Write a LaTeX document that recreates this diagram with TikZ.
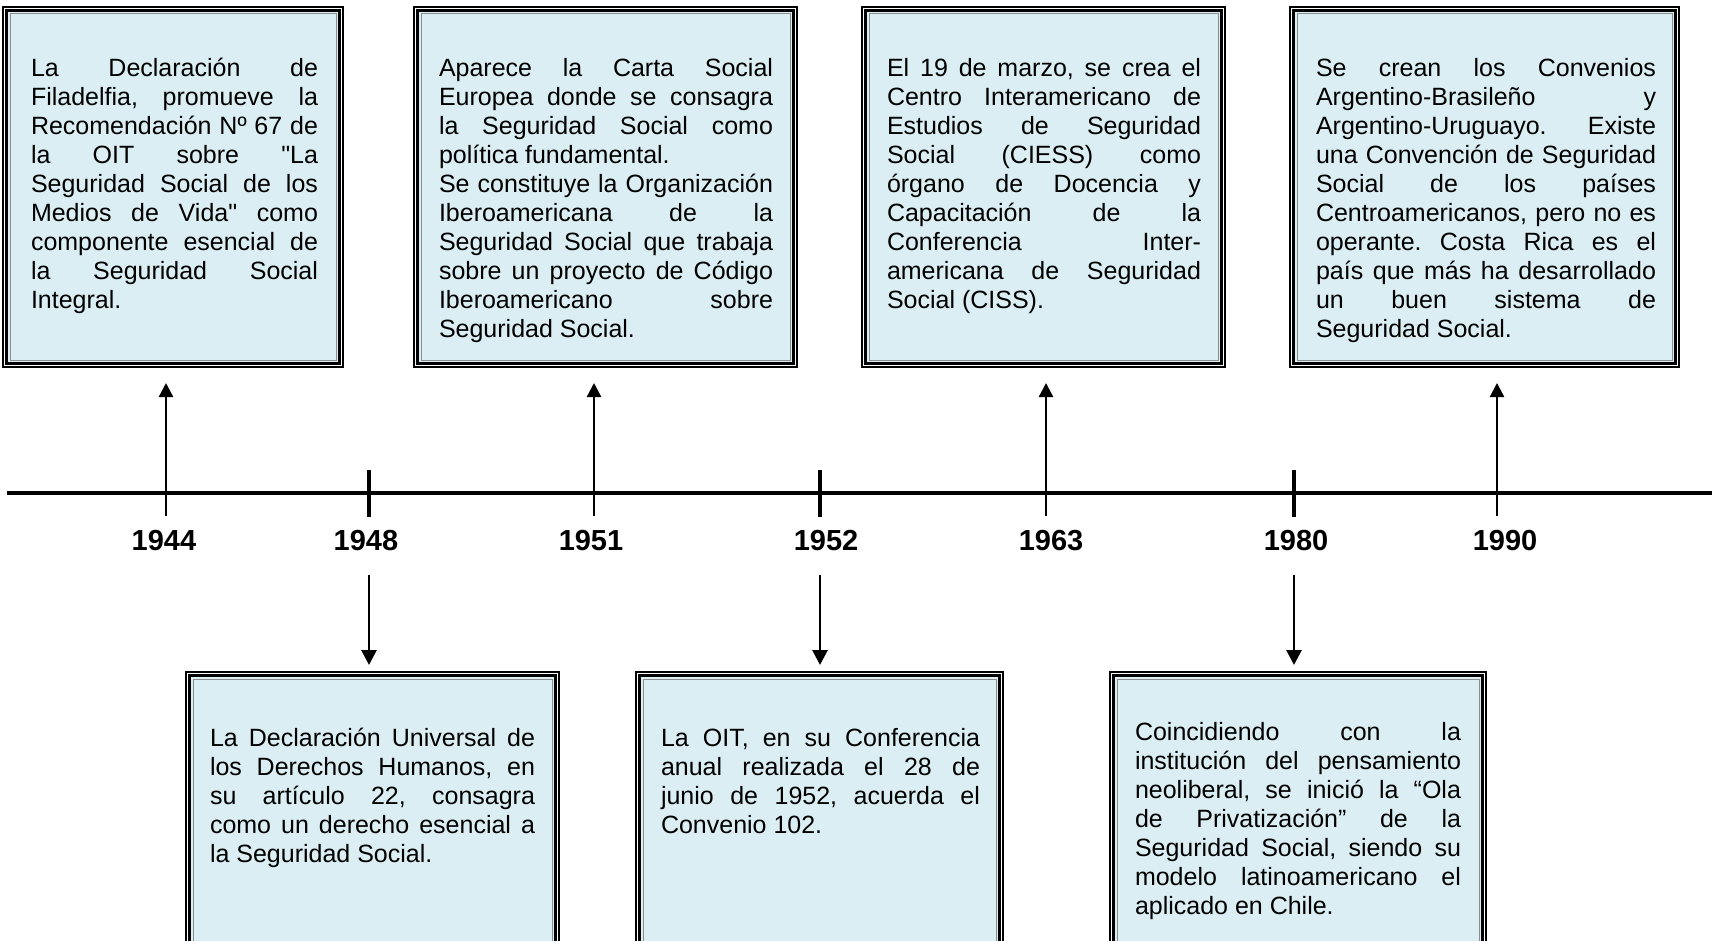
\documentclass[tikz,border=0pt]{standalone}
\usepackage{fontspec}
\setmainfont{Liberation Sans}[Ligatures=TeXOff]
\usetikzlibrary{arrows.meta}
\definecolor{boxfill}{RGB}{219,238,244}
\newcommand\txtsetup{\frenchspacing\hyphenpenalty=10000 \exhyphenpenalty=10000 \tolerance=10000 \hbadness=10000 \noindent\strut}
\tikzset{
 frame/.style={draw=black, line width=3pt, fill=boxfill, inner sep=0pt, outer sep=0pt},
 outerline/.style={draw=black, line width=1.2pt},
 innerline/.style={draw=black!45, line width=1pt},
 body/.style={anchor=north west, inner sep=0pt, outer sep=0pt, align=justify, font=\fontsize{25}{29}\selectfont},
 year/.style={anchor=base, inner sep=0pt, font=\bfseries\fontsize{29}{33}\selectfont},
 axis/.style={line width=4.5pt},
 tickmark/.style={line width=4pt},
 uparrow/.style={line width=2.3pt, -{Triangle[length=14pt,width=14pt]}},
 downarrow/.style={line width=2.8pt, -{Triangle[length=15pt,width=15pt]}},
}
\newcommand\tlbox[7]{% name, L, T, R, B, width, height
 \draw[outerline] (#2,#3) rectangle (#4,#5);
 \node[frame, minimum width=#6pt, minimum height=#7pt] (#1) at ({(#2+#4)/2},{(#3+#5)/2}) {};
 \draw[innerline] ([shift={(3.5,3.5)}]#1.north west) rectangle ([shift={(-3.5,-3.5)}]#1.south east);
}
\begin{document}
\begin{tikzpicture}[x=1pt,y=-1pt]
\useasboundingbox (0,0) rectangle (1712,941);
\clip (0,0) rectangle (1712,941);
\fill[white] (0,0) rectangle (1712,941);

% boxes
\tlbox{b1}{3}{7}{343}{367}{333}{353}
\tlbox{b2}{414}{7}{797}{367}{376}{353}
\tlbox{b3}{862}{7}{1225}{367}{356}{353}
\tlbox{b4}{1290}{7}{1679}{367}{382}{353}
\tlbox{b5}{186}{672}{559}{1000}{366}{321}
\tlbox{b6}{636}{672}{1003}{1000}{360}{321}
\tlbox{b7}{1110}{672}{1486}{1000}{369}{321}

% texts
\node[body, text width=287pt] (t1) at (31,56.2) {\txtsetup La Declaración de\linebreak Filadelfia, promueve la\linebreak Recomendación Nº 67 de\linebreak la OIT sobre "La\linebreak Seguridad Social de los\linebreak Medios de Vida" como\linebreak componente esencial de\linebreak la Seguridad Social\linebreak Integral.};
\node[body, text width=334pt] (t2) at (439,56.2) {\txtsetup Aparece la Carta Social\linebreak Europea donde se consagra\linebreak la Seguridad Social como\linebreak política fundamental.\\ Se constituye la Organización\linebreak Iberoamericana de la\linebreak Seguridad Social que trabaja\linebreak sobre un proyecto de Código\linebreak Iberoamericano sobre\linebreak Seguridad Social.};
\node[body, text width=314pt] (t3) at (887,56.2) {\txtsetup El 19 de marzo, se crea el\linebreak Centro Interamericano de\linebreak Estudios de Seguridad\linebreak Social (CIESS) como\linebreak órgano de Docencia y\linebreak Capacitación de la\linebreak Conferencia Inter-\linebreak americana de Seguridad\linebreak Social (CISS).};
\node[body, text width=340pt] (t4) at (1316,56.2) {\txtsetup Se crean los Convenios\linebreak Argentino-Brasileño y\linebreak Argentino-Uruguayo. Existe\linebreak una Convención de Seguridad\linebreak Social de los países\linebreak Centroamericanos, pero no es\linebreak operante. Costa Rica es el\linebreak país que más ha desarrollado\linebreak un buen sistema de\linebreak Seguridad Social.};
\node[body, text width=325pt] (t5) at (210,726.2) {\txtsetup La Declaración Universal de\linebreak los Derechos Humanos, en\linebreak su artículo 22, consagra\linebreak como un derecho esencial a\linebreak la Seguridad Social.};
\node[body, text width=319pt] (t6) at (661,726.2) {\txtsetup La OIT, en su Conferencia\linebreak anual realizada el 28 de\linebreak junio de 1952, acuerda el\linebreak Convenio 102.};
\node[body, text width=326pt] (t7) at (1135,719.7) {\txtsetup Coincidiendo con la\linebreak institución del pensamiento\linebreak neoliberal, se inició la “Ola\linebreak de Privatización” de la\linebreak Seguridad Social, siendo su\linebreak modelo latinoamericano el\linebreak aplicado en Chile.};

% timeline
\coordinate (ax0) at (6.7,493);
\coordinate (ax1) at (1712,493);
\draw[axis] (ax0) -- (ax1);

% up arrows
\coordinate (u1s) at (166,516); \coordinate (u1e) at (166,383);
\coordinate (u2s) at (594,516); \coordinate (u2e) at (594,383);
\coordinate (u3s) at (1046,516); \coordinate (u3e) at (1046,383);
\coordinate (u4s) at (1497,516); \coordinate (u4e) at (1497,383);
\draw[uparrow] (u1s) -- (u1e);
\draw[uparrow] (u2s) -- (u2e);
\draw[uparrow] (u3s) -- (u3e);
\draw[uparrow] (u4s) -- (u4e);

% ticks
\coordinate (k1a) at (369,470); \coordinate (k1b) at (369,517);
\coordinate (k2a) at (820,470); \coordinate (k2b) at (820,517);
\coordinate (k3a) at (1294,470); \coordinate (k3b) at (1294,517);
\draw[tickmark] (k1a) -- (k1b);
\draw[tickmark] (k2a) -- (k2b);
\draw[tickmark] (k3a) -- (k3b);

% down arrows
\coordinate (d1s) at (369,575); \coordinate (d1e) at (369,665);
\coordinate (d2s) at (820,575); \coordinate (d2e) at (820,665);
\coordinate (d3s) at (1294,575); \coordinate (d3e) at (1294,665);
\draw[downarrow] (d1s) -- (d1e);
\draw[downarrow] (d2s) -- (d2e);
\draw[downarrow] (d3s) -- (d3e);

% years
\node[year] (y1944) at (164,550) {1944};
\node[year] (y1948) at (366,550) {1948};
\node[year] (y1951) at (591,550) {1951};
\node[year] (y1952) at (826,550) {1952};
\node[year] (y1963) at (1051,550) {1963};
\node[year] (y1980) at (1296,550) {1980};
\node[year] (y1990) at (1505,550) {1990};
\end{tikzpicture}
\end{document}
